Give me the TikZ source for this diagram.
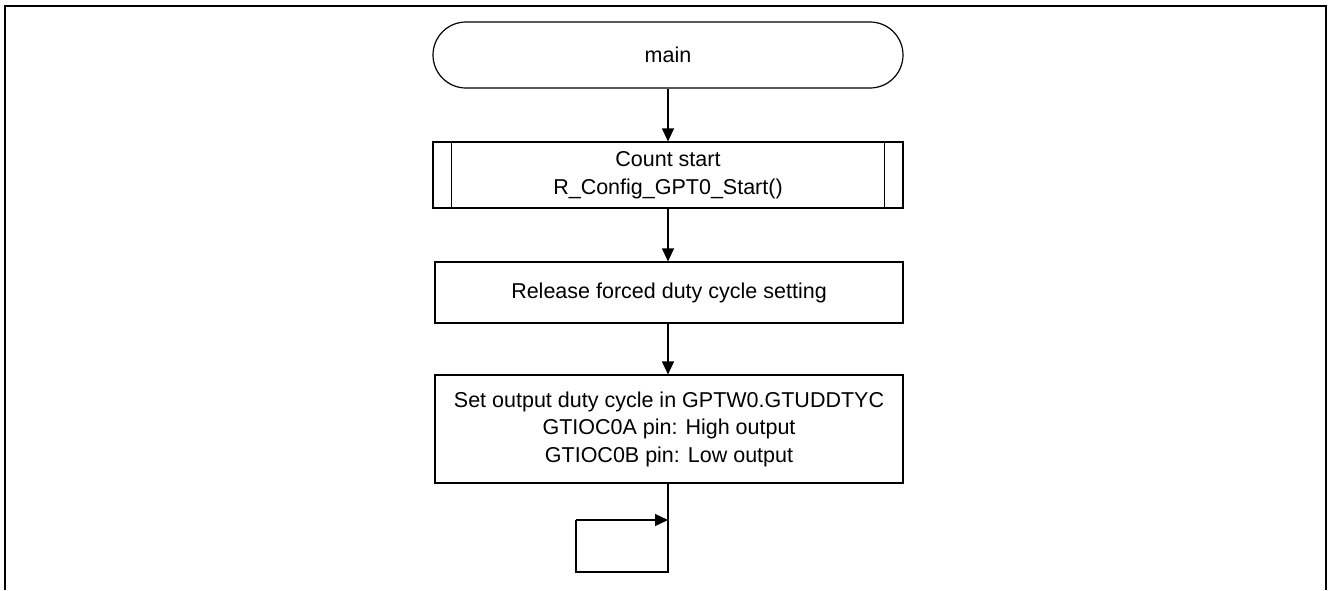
\documentclass[tikz,border=0pt]{standalone}
\usepackage{fontspec}
\setmainfont{Liberation Sans}
\usetikzlibrary{arrows.meta, positioning, calc}

\tikzset{
    flowline/.style={line width=1.2pt, -{Triangle[length=13pt, width=12pt]}},
    plainline/.style={line width=1.2pt},
    procbox/.style={draw, line width=1.2pt, rectangle, minimum width=468pt, inner sep=0pt, align=center, font=\fontsize{21.5}{27.5}\selectfont},
    termbox/.style={procbox, minimum width=470pt, minimum height=66pt, rounded corners=33pt}
}

\begin{document}
\begin{tikzpicture}[x=1pt, y=-1pt]
        \useasboundingbox (0,0) rectangle (1328,590);

        % page frame (open at the bottom)
        \draw[line width=2.5pt] (5,590) -- (5,6) -- (1326,6) -- (1326,590);

        % flow boxes
        \node[termbox] (start) at (668,55) {main};
        \node[procbox, minimum width=470pt, minimum height=66pt] (count) at (668,175) {Count start\\R\_Config\_GPT0\_Start()};
        \draw[plainline] ($(count.north west)+(19,0)$) -- ($(count.south west)+(19,0)$);
        \draw[plainline] ($(count.north east)+(-19,0)$) -- ($(count.south east)+(-19,0)$);
        \node[procbox, minimum height=61pt] (release) at (669,292.5) {Release forced duty cycle setting};
        \node[procbox, minimum height=108pt] (setduty) at (669,429) {Set output duty cycle in GPTW0.GTUDDTYC\\GTIOC0A pin: High output\\GTIOC0B pin: Low output};

        % connectors
        \draw[flowline] (start.south) -- (count.north -| start.south);
        \draw[flowline] (count.south) -- (release.north -| count.south);
        \draw[flowline] (release.south -| count.south) -- (setduty.north -| count.south);

        % endless loop
        \coordinate (loopin) at (668,520);
        \coordinate (loopbot) at (668,572);
        \coordinate (loopleft) at (576,572);
        \draw[plainline] (setduty.south -| loopin) -- (loopbot) -- (loopleft) -- (loopleft |- loopin);
        \draw[flowline] (loopleft |- loopin) -- (loopin);
    \end{tikzpicture}
\end{document}
